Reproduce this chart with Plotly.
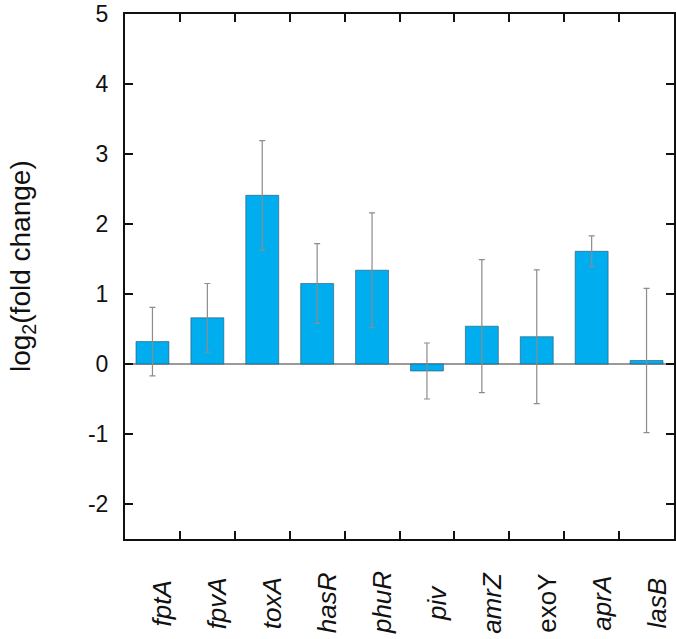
import plotly.graph_objects as go

genes = ["fptA", "fpvA", "toxA", "hasR", "phuR", "piv", "amrZ", "exoY", "aprA", "lasB"]
italic = [True, True, True, True, True, True, True, False, True, True]
values = [0.32, 0.66, 2.41, 1.15, 1.34, -0.10, 0.54, 0.39, 1.61, 0.05]
errors = [0.49, 0.49, 0.78, 0.57, 0.82, 0.40, 0.95, 0.955, 0.22, 1.03]
y_ticks = [-2, -1, 0, 1, 2, 3, 4, 5]
y_ticktext = ["-2", "-1", "0", "1", "2", "3", "4", "5"]
y_title = "log<sub>2</sub>(fold change)"

labels = [f"<i>{g}</i>" if it else g for g, it in zip(genes, italic)]

fig = go.Figure()
fig.add_trace(go.Bar(
    x=genes,
    y=values,
    width=0.6,
    marker=dict(color="#00AEEF", line=dict(color="rgba(40,70,90,0.7)", width=0.8)),
    error_y=dict(type="data", array=errors, visible=True, color="#8c8c8c",
                 thickness=1.2, width=3),
))

font = "Liberation Sans, Arial, sans-serif"
fig.update_layout(
    width=676, height=639,
    margin=dict(l=125, r=2, t=14, b=100),
    paper_bgcolor="white", plot_bgcolor="white",
    showlegend=False,
    font=dict(family=font, size=23, color="#111"),
    bargap=0.4,
)
fig.update_xaxes(
    type="category",
    automargin=False,
    tickmode="array", tickvals=genes, ticktext=[""] * len(genes),
    tickson="boundaries",
    ticks="inside", ticklen=8, tickwidth=2, tickcolor="#111",
    showline=True, linecolor="#111", linewidth=2, mirror="ticks",
    showgrid=False,
)
fig.update_yaxes(
    automargin=False,
    range=[-2.5, 5],
    tickmode="array", tickvals=y_ticks, ticktext=y_ticktext,
    ticks="inside", ticklen=8, tickwidth=2, tickcolor="#111",
    showline=True, linecolor="#111", linewidth=2, mirror="ticks",
    showgrid=False,
    zeroline=True, zerolinecolor="#9a9a9a", zerolinewidth=1.5,
    tickfont=dict(size=23, family=font, color="#111"),
    ticklabelstandoff=10,
)

# category labels (rotated, centred under each category)
for g, lab in zip(genes, labels):
    fig.add_annotation(
        x=g, xref="x", y=0, yref="paper",
        text=lab, textangle=-90, showarrow=False,
        xanchor="center", yanchor="middle",
        xshift=10, yshift=-64,
        font=dict(size=26, family=font, color="#111"),
    )

# y-axis title
fig.add_annotation(
    x=0, xref="paper", y=0.52, yref="paper",
    text=y_title, textangle=-90, showarrow=False,
    xanchor="center", yanchor="middle", xshift=-103,
    font=dict(size=28, family=font, color="#111"),
)

fig.write_html(
    "out.html",
    config={"displayModeBar": False},
    post_script="document.body.style.margin='0';document.body.style.overflow='hidden';",
)
